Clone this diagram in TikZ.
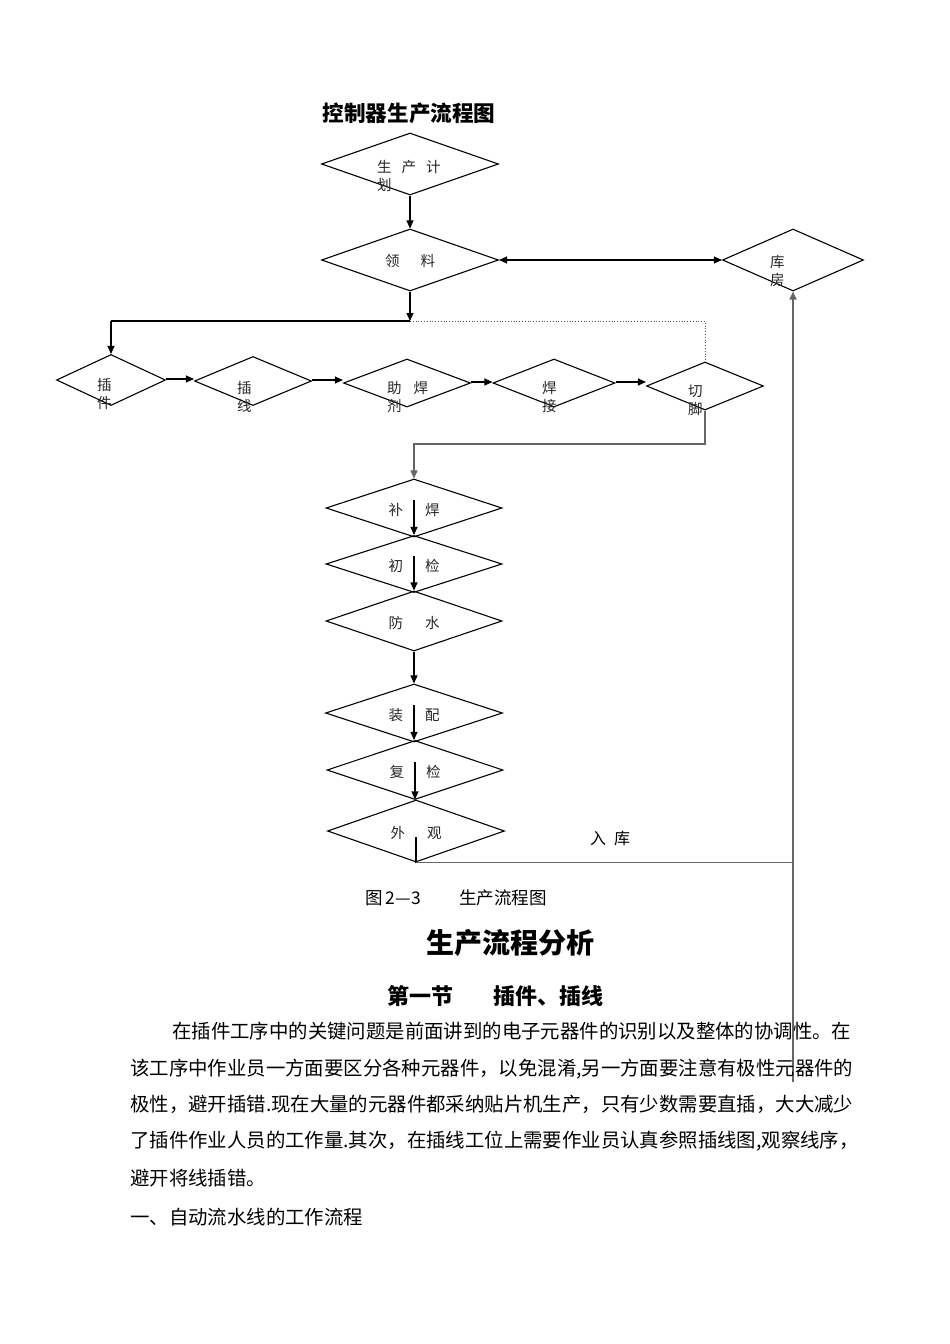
\documentclass[tikz,border=0pt]{standalone}
\usepackage{fontspec}
\setmainfont{Noto Sans CJK SC}
\usetikzlibrary{arrows.meta,shapes.geometric}

\begin{document}
\begin{tikzpicture}[x=1pt,y=-1pt,>={Triangle[length=8pt,width=7pt]},
  dia/.style={draw,diamond,line width=1.1pt,inner sep=0pt},
  lbl/.style={inner sep=0pt,align=left,text=black!85,font=\fontsize{14.5}{18}\selectfont},
  link/.style={line width=1.1pt},
  feed/.style={line width=1.6pt,black!60},
  body/.style={anchor=west,inner sep=0pt,font=\fontsize{19.4}{20}\selectfont}]
  \useasboundingbox (0,0) rectangle (950,1344);
  \node[font=\bfseries\fontsize{21.6}{24}\selectfont] (title) at (409,113) {控制器生产流程图};
  % the diamonds: name/x/y/width/height
  \foreach \n/\x/\y/\w/\h in {plan/410/164/177/62, pick/410/260/177/62, store/793/260/141/62,
                              ins1/111/380/109/51, ins2/253/381/117/49, flux/407/383/127/48,
                              weld/554/383/122/48, cut/705/386/117/48,
                              rew/414/508/176/58, chk1/414/564/176/57, wat/414/621/176/60,
                              asm/414/713/177/58, chk2/415/770/176/59, look/416/831/177/62}
    \node[dia,minimum width=\w pt,minimum height=\h pt] (\n) at (\x,\y) {};
  \node[lbl,anchor=west] (plan-t) at (377,176) {生\hspace{10pt}产\hspace{10pt}计\\划};
  \node[lbl] (pick-t) at (410,261) {领\hspace{21pt}料};
  \node[lbl,anchor=west] (store-t) at (770,271) {库\\房};
  \node[lbl,anchor=west] (ins1-t) at (97,394) {插\\件};
  \node[lbl,anchor=west] (ins2-t) at (237,397) {插\\线};
  \node[lbl,anchor=west] (flux-t) at (387,397) {助\hspace{12pt}焊\\剂};
  \node[lbl,anchor=west] (weld-t) at (542,397) {焊\\接};
  \node[lbl,anchor=west] (cut-t) at (688,400) {切\\脚};
  \foreach \n/\a/\b in {rew/补/焊, chk1/初/检, wat/防/水, asm/装/配, chk2/复/检, look/外/观}
    \node[lbl] (\n-t) at ([yshift=-2pt]\n.center) {\a\hspace{22pt}\b};

  % connectors
  \coordinate (split) at (410,321);
  \coordinate (turn) at (414,444);
  \coordinate (tail) at (793,1082);
  \draw[link,->] (plan) -- (pick);
  \draw[link,<->] (pick) -- (store);
  \draw[link,->] (pick) -- (split);
  \draw[link] (split) -- (ins1 |- split);
  \draw[link,->] (ins1 |- split) -- (ins1);
  \draw[dotted,black!70,line width=0.8pt] (split) -- (cut |- split) -- (cut);
  \foreach \a/\b in {ins1/ins2, ins2/flux, flux/weld, weld/cut}
    \draw[link,->] ([yshift=1pt]\a.east) -- ([yshift=1pt]\b.west |- \a.east);
  \draw[feed,->] (cut.south) |- (turn) -- (rew.north);
  \foreach \a/\b in {rew/chk1, chk1/wat, asm/chk2, chk2/look}
    \draw[link,->] ([yshift=8pt]\a.center) -- (\a.center |- \b.north);
  \draw[link,->] (wat) -- (asm);
  \draw[link] ([yshift=-6pt]look.center) -- (look.south);
  \draw[feed] (look.south) -- (tail |- look.south);
  \draw[feed,->] (tail) -- (store.south);
  \node[font=\fontsize{16}{18}\selectfont] (stock) at (610,838) {入\hspace{8pt}库};

  % text of the page
  \node[anchor=west,font=\fontsize{17.5}{18}\selectfont] (cap) at (362,898) {图\,2—3\hspace{38pt}生产流程图};
  \node[font=\bfseries\fontsize{28}{30}\selectfont] (head) at (510,943) {生产流程分析};
  \node[font=\bfseries\fontsize{22}{24}\selectfont] (sec) at (495,996) {第一节\hspace{40pt}插件、插线};
  \node[body] (p1) at (172,1031) {在插件工序中的关键问题是前面讲到的电子元器件的识别以及整体的协调性。在};
  \node[body] (p2) at (130,1069) {该工序中作业员一方面要区分各种元器件，以免混淆,另一方面要注意有极性元器件的};
  \node[body] (p3) at (130,1104) {极性，避开插错.现在大量的元器件都采纳贴片机生产，只有少数需要直插，大大减少};
  \node[body] (p4) at (130,1141) {了插件作业人员的工作量.其次，在插线工位上需要作业员认真参照插线图,观察线序，};
  \node[body] (p5) at (130,1178) {避开将线插错。};
  \node[body] (p6) at (130,1217) {一、自动流水线的工作流程};
\end{tikzpicture}
\end{document}
